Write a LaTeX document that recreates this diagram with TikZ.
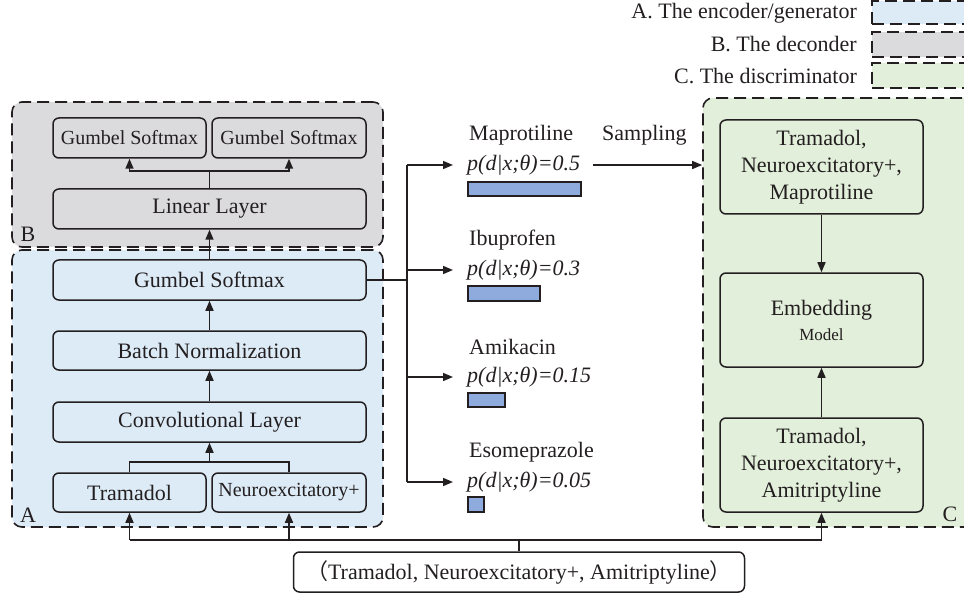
\documentclass[tikz,border=0pt]{standalone}
\usepackage{fontspec}
\setmainfont{Liberation Serif}
\newfontfamily\cjk{Noto Sans CJK SC}
\usetikzlibrary{arrows.meta}
\definecolor{dark}{HTML}{231F20}
\definecolor{blueF}{HTML}{DDEBF7}
\definecolor{greyF}{HTML}{DBDBDD}
\definecolor{greenF}{HTML}{E2EFDA}
\definecolor{barF}{HTML}{8FAADC}
\tikzset{
  every node/.style={font=\fontsize{22}{27}\selectfont, text=dark},
  region/.style={draw=dark, line width=1.6pt, dash pattern=on 12pt off 6pt, rounded corners=10pt, inner sep=0pt},
  swatch/.style={draw=dark, line width=1.6pt, dash pattern=on 12pt off 6pt, inner sep=0pt, minimum width=118pt},
  box/.style={draw=dark, line width=1.5pt, rounded corners=6pt, inner sep=0pt, align=center},
  small/.style={font=\fontsize{20}{24}\selectfont},
  conn/.style={draw=dark, line width=1.5pt},
  arr/.style={conn, -{Triangle[length=10pt,width=8pt]}},
  bar/.style={draw=dark, line width=1.5pt, fill=barF, inner sep=0pt, anchor=west},
  lbl/.style={anchor=west, inner sep=0pt},
}
\begin{document}
\begin{tikzpicture}[x=1pt,y=-1pt]
\useasboundingbox (0,0) rectangle (964,596);
\begin{scope}
\clip (0,0) rectangle (964,596);
% legend
\node[anchor=east, inner sep=0pt] (legA) at (857,13) {A. The encoder/generator};
\node[anchor=east, inner sep=0pt] (legB) at (857,44) {B. The deconder};
\node[anchor=east, inner sep=0pt] (legC) at (857,76) {C. The discriminator};
\node[swatch, fill=blueF, minimum height=23pt] (swA) at (931,12.5) {};
\node[swatch, fill=greyF, minimum height=25pt] (swB) at (931,44.5) {};
\node[swatch, fill=greenF, minimum height=25pt] (swC) at (931,75.5) {};
% regions
\node[region, fill=greyF, minimum width=371pt, minimum height=145pt] (regB) at (197.5,174.5) {};
\node[region, fill=blueF, minimum width=371pt, minimum height=277pt] (regA) at (197.5,388.5) {};
\node[region, fill=greenF, minimum width=287pt, minimum height=429pt] (regC) at (846.5,312.5) {};
\node (labB) at (28,234) {B};
\node (labA) at (28,515) {A};
\node (labC) at (950,514) {C};
% B boxes
\node[box, small, minimum width=153pt, minimum height=40pt] (gb1) at (129.5,138) {Gumbel Softmax};
\node[box, small, minimum width=154pt, minimum height=40pt] (gb2) at (289,138) {Gumbel Softmax};
\node[box, minimum width=313pt, minimum height=40pt] (lin) at (209.5,209) {Linear Layer};
% A boxes
\node[box, minimum width=313pt, minimum height=40pt] (ga) at (209.5,280) {Gumbel Softmax};
\node[box, minimum width=313pt, minimum height=39pt] (bn) at (209.5,350.5) {Batch Normalization};
\node[box, minimum width=313pt, minimum height=40pt] (conv) at (209.5,422) {Convolutional Layer};
\node[box, minimum width=153pt, minimum height=39pt] (tra) at (129.5,492.5) {Tramadol};
\node[box, small, minimum width=154pt, minimum height=39pt] (neu) at (289,492.5) {Neuroexcitatory+};
% C boxes
\node[box, minimum width=203pt, minimum height=94pt] (c1) at (821.5,167) {Tramadol,\\Neuroexcitatory+,\\Maprotiline};
\node[box, minimum width=203pt, minimum height=94pt] (emb) at (821.5,320) {Embedding\\[-2pt]{\fontsize{17}{20}\selectfont Model}};
\node[box, minimum width=203pt, minimum height=94pt] (c3) at (821.5,465) {Tramadol,\\Neuroexcitatory+,\\Amitriptyline};
% input
\node[box, minimum width=451pt, minimum height=40pt] (inp) at (519,572) {{\cjk （}Tramadol, Neuroexcitatory+, Amitriptyline{\cjk ）}};
% middle column
\node[lbl] (nm) at (469,135) {Maprotiline};
\node[lbl] (pm) at (467,165) {\itshape p(d|x;θ)=0.5};
\node[bar, minimum width=113pt, minimum height=14pt] (bm) at (467,189) {};
\node[lbl] (ni) at (469,240) {Ibuprofen};
\node[lbl] (pi) at (467,270) {\itshape p(d|x;θ)=0.3};
\node[bar, minimum width=72pt, minimum height=15pt] (bi) at (467,293.5) {};
\node[lbl] (na) at (469,347) {Amikacin};
\node[lbl] (pa) at (467,377) {\itshape p(d|x;θ)=0.15};
\node[bar, minimum width=37pt, minimum height=14pt] (ba) at (467,400) {};
\node[lbl] (ne) at (469,452) {Esomeprazole};
\node[lbl] (pe) at (467,482) {\itshape p(d|x;θ)=0.05};
\node[bar, minimum width=16pt, minimum height=15pt] (be) at (467,504.5) {};
\node[lbl] (samp) at (602,135) {Sampling};
% coordinates
\coordinate (bsplit) at (209.5,171);
\coordinate (asplit) at (209.5,462);
\coordinate (spine) at (407,280);
\coordinate (bus) at (519,540);
% B connectors
\draw[arr] (ga.north) -- (lin.south);
\draw[conn] (lin.north) -- (bsplit);
\draw[arr] (bsplit) -| (gb1.south);
\draw[arr] (bsplit) -| (gb2.south);
% A connectors
\draw[arr] (bn.north) -- (ga.south);
\draw[arr] (conv.north) -- (bn.south);
\draw[arr] (asplit) -- (conv.south);
\draw[conn] (tra.north) -- (tra.north |- asplit) -- (neu.north |- asplit) -- (neu.north);
% fan out
\draw[conn] (ga.east) -- (spine);
\draw[conn] (pm.west -| spine) -- (pe.west -| spine);
\draw[arr, shorten >=14pt] (pm.west -| spine) -- (pm.west);
\draw[arr, shorten >=14pt] (pi.west -| spine) -- (pi.west);
\draw[arr, shorten >=14pt] (pa.west -| spine) -- (pa.west);
\draw[arr, shorten >=14pt] (pe.west -| spine) -- (pe.west);
\draw[arr, shorten <=13pt] (pm.east) -- (pm.east -| regC.west);
% C connectors
\draw[arr] (c1.south) -- (emb.north);
\draw[arr] (c3.north) -- (emb.south);
% bus
\draw[conn] (inp.north) -- (bus);
\draw[conn] (tra.south |- bus) -- (c3.south |- bus);
\draw[arr] (tra.south |- bus) -- (tra.south);
\draw[arr] (neu.south |- bus) -- (neu.south);
\draw[arr] (c3.south |- bus) -- (c3.south);
\end{scope}
\end{tikzpicture}
\end{document}
